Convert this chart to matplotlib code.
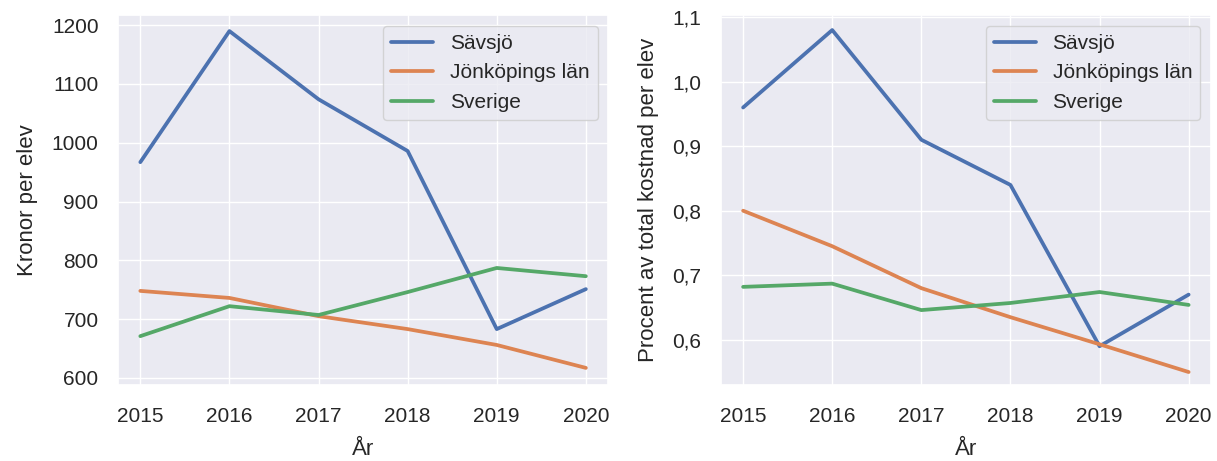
import matplotlib
matplotlib.use("Agg")
import matplotlib.pyplot as plt
import seaborn as sns
from matplotlib.ticker import FuncFormatter

years = [2015, 2016, 2017, 2018, 2019, 2020]

# Kronor per elev
savsjo_kr = [967, 1190, 1074, 986, 683, 751]
jonkoping_kr = [748, 736, 705, 683, 656, 617]
sverige_kr = [671, 722, 707, 746, 787, 773]

# Procent av total kostnad per elev
savsjo_pct = [0.96, 1.08, 0.91, 0.84, 0.59, 0.67]
jonkoping_pct = [0.80, 0.745, 0.68, 0.635, 0.593, 0.55]
sverige_pct = [0.682, 0.687, 0.646, 0.657, 0.674, 0.654]

series_names = ["Sävsjö", "Jönköpings län", "Sverige"]

sns.set_theme(style="darkgrid")
plt.rcParams['font.family'] = ['Arial', 'Liberation Sans', 'DejaVu Sans']

fig, (ax1, ax2) = plt.subplots(1, 2, figsize=(12.17, 4.61), dpi=100)
fig.subplots_adjust(left=0.097, right=0.995, bottom=0.165, top=0.967, wspace=0.23)

for vals, name in zip([savsjo_kr, jonkoping_kr, sverige_kr], series_names):
    ax1.plot(years, vals, label=name, linewidth=2.7)
ax1.set_ylim(588, 1217)
ax1.set_ylabel("Kronor per elev", fontsize=16, labelpad=10)
ax1.set_xlabel("År", fontsize=16, labelpad=9)

for vals, name in zip([savsjo_pct, jonkoping_pct, sverige_pct], series_names):
    ax2.plot(years, vals, label=name, linewidth=2.7)
ax2.set_ylim(0.53, 1.103)
ax2.yaxis.set_major_formatter(FuncFormatter(lambda v, p: f"{v:.1f}".replace('.', ',')))
ax2.set_ylabel("Procent av total kostnad per elev", fontsize=16, labelpad=10)
ax2.set_xlabel("År", fontsize=16, labelpad=9)

for ax in (ax1, ax2):
    ax.set_xticks(years)
    ax.tick_params(axis='x', labelsize=15, pad=10)
    ax.tick_params(axis='y', labelsize=15, pad=8)
    ax.legend(loc="upper right", fontsize=15)

fig.savefig("out.png", dpi=100)
